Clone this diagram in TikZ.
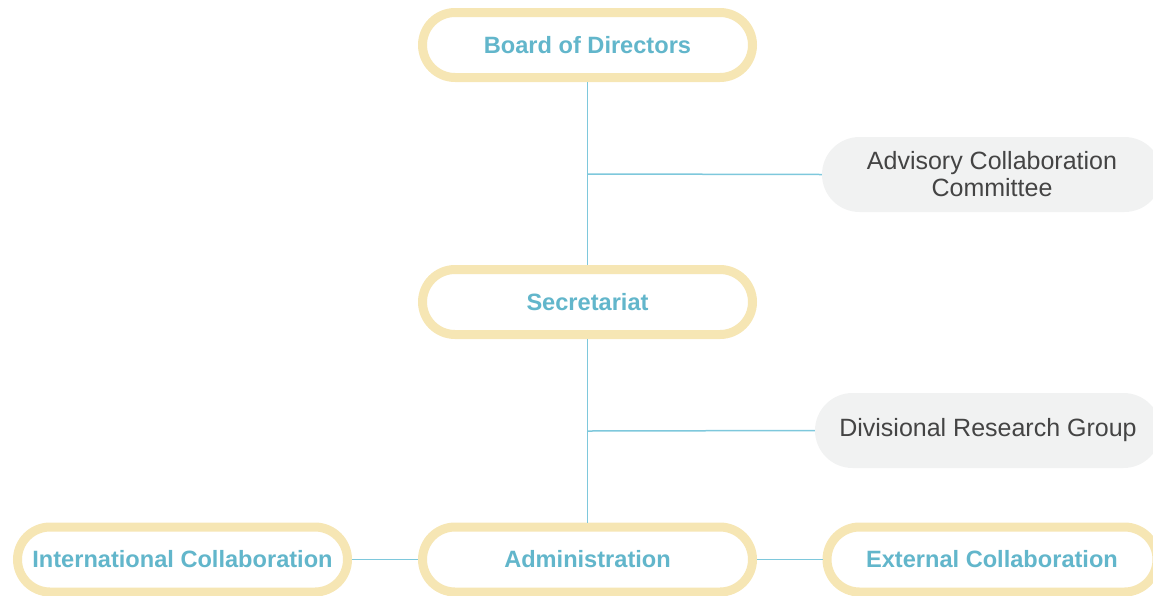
\documentclass[tikz,border=0pt]{standalone}
\usepackage{fontspec}
\setmainfont{Liberation Sans}
\definecolor{ybord}{HTML}{F6E6B4}
\definecolor{btext}{HTML}{62B6CB}
\definecolor{gfill}{HTML}{F1F2F2}
\definecolor{gtext}{HTML}{444444}
\definecolor{lblue}{HTML}{7EC8DC}
\begin{document}
\begin{tikzpicture}[x=1pt,y=-1pt,
  ybox/.style={draw=ybord, line width=9pt, fill=white, rounded corners=32.5pt,
    minimum width=330pt, minimum height=65pt, inner sep=0pt,
    text=btext, font=\fontsize{23.6}{27}\selectfont\bfseries},
  gbox/.style={fill=gfill, rounded corners=37.5pt, minimum height=75pt, inner sep=0pt,
    text=gtext, font=\fontsize{25}{28}\selectfont, align=center},
  conn/.style={draw=lblue, line width=1.5pt}]
\useasboundingbox (0,0) rectangle (1153,595);
\node[ybox] (board) at (587.5,45) {Board of Directors};
\node[ybox] (secr) at (587.5,302) {Secretariat};
\node[ybox] (admin) at (587.5,559.5) {Administration};
\node[ybox] (intl) at (182.5,559.5) {International Collaboration};
\node[ybox] (ext) at (992,559.5) {External Collaboration};
\node[gbox, minimum width=340pt] (adv) at (992,174.5) {Advisory Collaboration\\[-1pt]Committee};
\node[gbox, minimum width=346pt] (div) at (988,430.5) {Divisional Research Group};
\coordinate (j1) at (588,174);
\coordinate (j2) at (588,431);
\draw[conn] (board.south) -- (secr.north);
\draw[conn] (secr.south) -- (admin.north);
\draw[conn] (j1) -- (adv.west);
\draw[conn] (j2) -- (div.west);
\draw[conn] (intl.east) -- (admin.west);
\draw[conn] (admin.east) -- (ext.west);
\end{tikzpicture}
\end{document}
